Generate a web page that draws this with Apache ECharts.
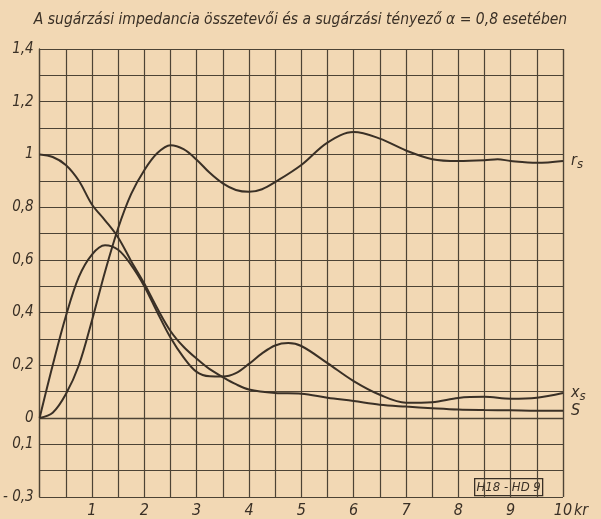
<!DOCTYPE html>
<html><head><meta charset="utf-8">
<script src="https://cdn.jsdelivr.net/npm/echarts@6/dist/echarts.min.js"></script>
<style>html,body{margin:0;padding:0;background:#f2d8b4;}#c{width:601px;height:519px;}</style>
</head><body><div id="c"></div>
<script>
const title = 'A sugárzási impedancia összetevői és a sugárzási tényező α = 0,8 esetében';
const xR = [0,0.25,0.5,0.75,1,1.25,1.5,1.75,2,2.25,2.5,2.75,3,3.25,3.5,3.75,4,4.25,4.5,5,5.5,6,6.5,7,7.5,8,8.5,8.75,9,9.5,10];
const rS = [0,0.02,0.09,0.2,0.37,0.555,0.72,0.85,0.94,1.005,1.035,1.02,0.98,0.93,0.89,0.865,0.858,0.868,0.895,0.96,1.045,1.085,1.06,1.015,0.982,0.975,0.978,0.982,0.975,0.968,0.975];
const xX = [0,0.25,0.5,0.75,1,1.25,1.5,1.75,2,2.25,2.5,2.75,3,3.25,3.5,3.75,4,4.25,4.5,4.75,5,5.5,6,6.5,7,7.5,8,8.5,9,9.5,10];
const xS = [0,0.2,0.385,0.535,0.62,0.655,0.638,0.58,0.5,0.4,0.305,0.23,0.175,0.158,0.157,0.17,0.205,0.245,0.275,0.284,0.273,0.208,0.14,0.088,0.058,0.06,0.076,0.08,0.073,0.077,0.095];
const xSf = [0,0.25,0.5,0.75,1,1.25,1.5,1.75,2,2.25,2.5,2.75,3,3.25,3.5,3.75,4,4.5,5,5.5,6,6.5,7,7.5,8,8.5,9,9.5,10];
const sF = [1,0.99,0.96,0.9,0.81,0.75,0.685,0.595,0.51,0.415,0.33,0.27,0.225,0.185,0.155,0.128,0.108,0.095,0.092,0.077,0.064,0.05,0.043,0.037,0.032,0.03,0.029,0.027,0.027];
const yTickValues = [1.4,1.2,1,0.8,0.6,0.4,0.2,0,-0.1,-0.3];
const yTickTexts = ['1,4','1,2','1','0,8','0,6','0,4','0,2','0','0,1','- 0,3'];
const xTickValues = [1,2,3,4,5,6,7,8,9,10];
const xTickTexts = ['1','2','3','4','5','6','7','8','9','10'];
const xAxisUnit = 'kr';
const curveNames = [['r','s'],['x','s'],['S','']];
const stampText = 'H18 - HD 9';

const ink = '#3a3026';
const gridInk = '#4d4335';
const paper = '#f2d8b4';
const font = '"Liberation Sans Narrow","DejaVu Sans Condensed",sans-serif';
function pairs(xs, ys){ return xs.map((x,i)=>[x, ys[i]]); }
function mkSeries(name, data, lab){
  return {
    type:'line', name:name, data:data, smooth:0.35, symbol:'none',
    lineStyle:{color:ink, width:2}, z:5,
    endLabel:{show:true, distance:8, formatter: lab[1] ? '{a|'+lab[0]+'}{b|'+lab[1]+'}' : '{a|'+lab[0]+'}',
      rich:{a:{fontFamily:font, fontStyle:'italic', fontSize:16, color:ink},
            b:{fontFamily:font, fontStyle:'italic', fontSize:13, color:ink, padding:[8,0,0,0]}}}
  };
}
const chart = echarts.init(document.getElementById('c'), null, {renderer:'canvas'});
chart.setOption({
  backgroundColor:paper,
  animation:false,
  title:{text:title, left:'center', top:7, textStyle:{fontFamily:font, fontStyle:'italic', fontWeight:'normal', fontSize:15.5, color:ink}},
  grid:{left:39, right:38, top:49, bottom:21, show:false},
  xAxis:{type:'value', min:0, max:10, interval:0.5,
    axisLine:{show:true, lineStyle:{color:gridInk, width:1.3}},
    axisTick:{show:false},
    splitLine:{show:true, lineStyle:{color:gridInk, width:1.2}},
    axisLabel:{margin:6, fontFamily:font, fontStyle:'italic', fontSize:16, color:ink,
      formatter:v=>{const i=xTickValues.findIndex(t=>Math.abs(t-v)<1e-6); return i>=0?xTickTexts[i]:'';}}
  },
  yAxis:{type:'value', min:-0.3, max:1.4, interval:0.1,
    axisLine:{show:true, lineStyle:{color:gridInk, width:1.3}},
    axisTick:{show:false},
    splitLine:{show:true, lineStyle:{color:gridInk, width:1.2}},
    axisLabel:{margin:6, fontFamily:font, fontStyle:'italic', fontSize:15, color:ink,
      formatter:v=>{const i=yTickValues.findIndex(t=>Math.abs(t-v)<1e-6); return i>=0?yTickTexts[i]:'';}}
  },
  series:[
    {type:'line', data:[], markLine:{silent:true, symbol:'none', label:{show:false},
      lineStyle:{color:gridInk, width:1.2, type:'solid'}, data:[{xAxis:10}]}},
    mkSeries('rs', pairs(xR, rS), curveNames[0]),
    mkSeries('xs', pairs(xX, xS), curveNames[1]),
    mkSeries('S', pairs(xSf, sF), curveNames[2])
  ],
  graphic:[
    {type:'text', left:574, top:503, style:{text:xAxisUnit, fill:ink, font:'italic 16px '+font}},
    {type:'group', left:474, top:478, z:100, children:[
      {type:'rect', shape:{x:0,y:0,width:68,height:17}, style:{fill:paper, stroke:ink, lineWidth:1.3}},
      {type:'text', x:34, y:9, style:{text:stampText, fill:ink, font:'italic 13px '+font, textAlign:'center', textVerticalAlign:'middle'}}
    ]}
  ]
});
</script></body></html>
